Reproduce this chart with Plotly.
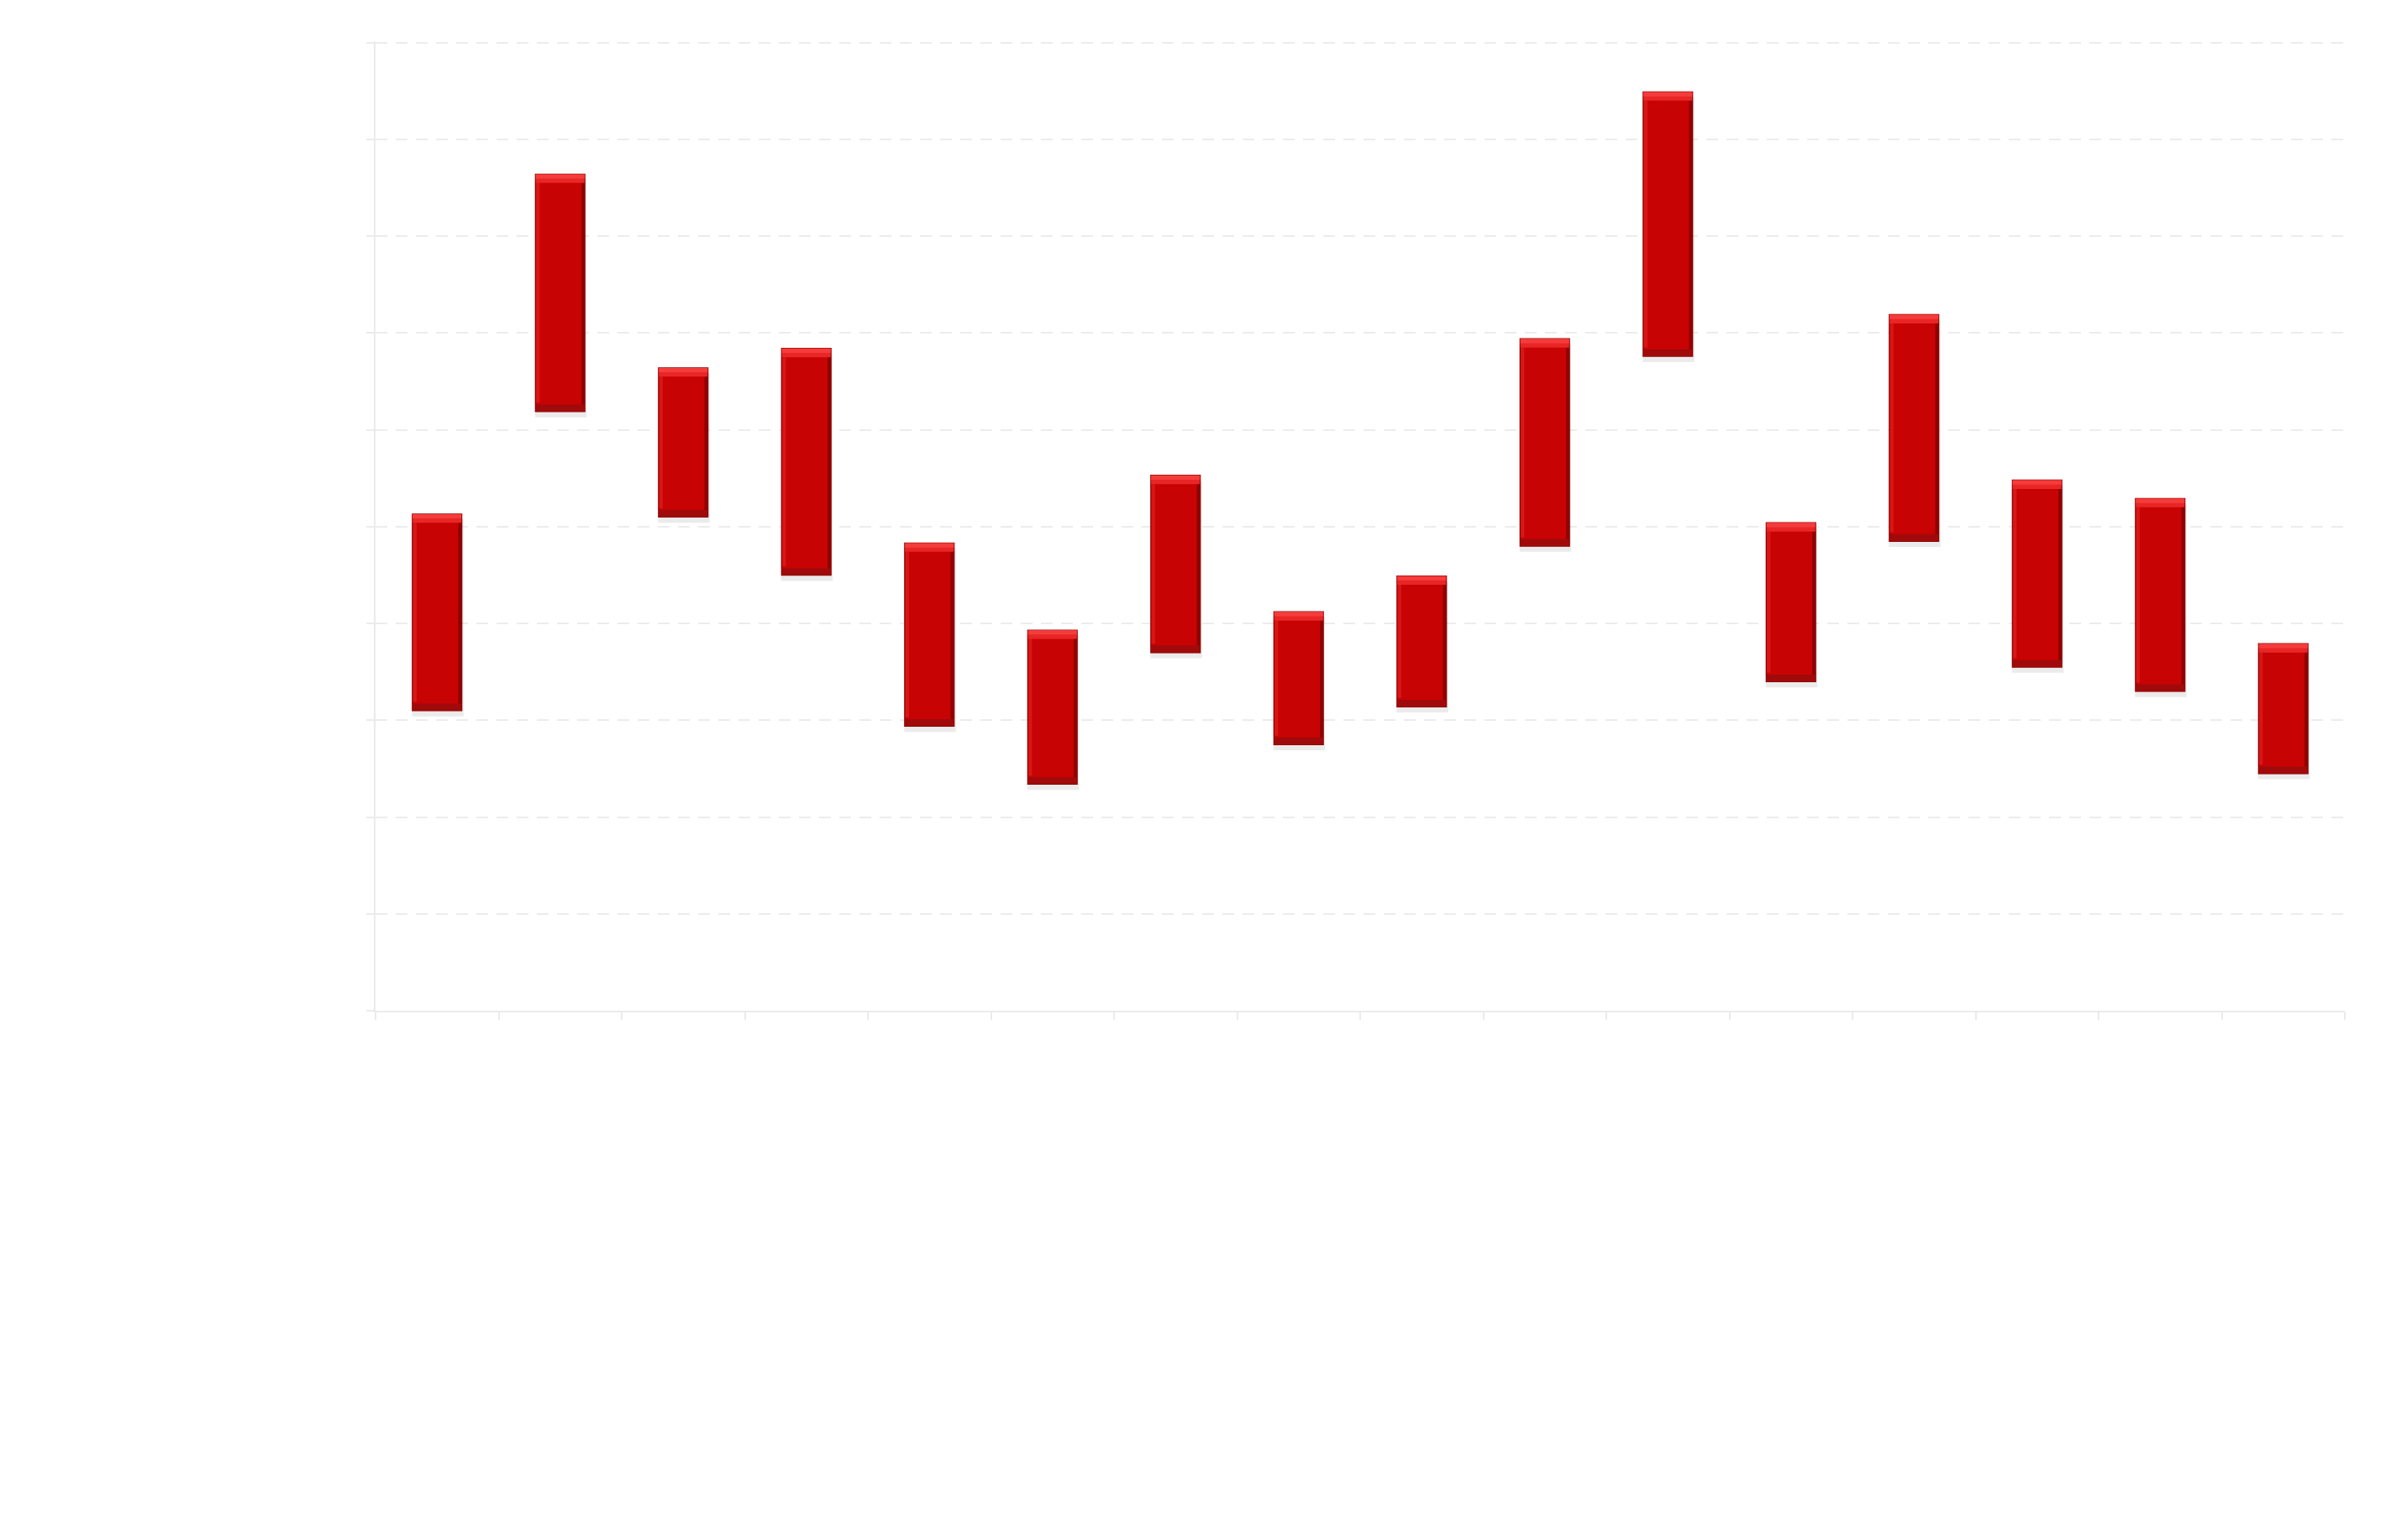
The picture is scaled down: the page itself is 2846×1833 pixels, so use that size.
import plotly.graph_objects as go

# ---- data (axis has no labels, scale 0-10) ----
categories = [str(i) for i in range(1, 17)]
low_values = [3.10, 6.19, 5.10, 4.50, 2.94, 2.34, 3.70, 2.75, 3.14, 4.80, 6.76, 3.40, 4.85, 3.55, 3.30, 2.45]
high_values = [5.13, 8.64, 6.64, 6.84, 4.83, 3.93, 5.53, 4.12, 4.49, 6.94, 9.49, 5.04, 7.19, 5.48, 5.29, 3.79]

heights = [h - l for h, l in zip(high_values, low_values)]
BW = 0.40      # bar width (fraction of category)
BEV = 0.09     # bevel depth in data units

fig = go.Figure()

# soft shadow
fig.add_trace(go.Bar(
    x=categories, y=heights, base=[l - 0.06 for l in low_values],
    width=BW + 0.02, offset=-BW / 2 - 0.005,
    marker=dict(color="rgba(0,0,0,0.08)", line=dict(width=0)),
    hoverinfo="skip", showlegend=False))

# main body
fig.add_trace(go.Bar(
    x=categories, y=heights, base=low_values, width=BW,
    marker=dict(color="#c80303", line=dict(color="#8c0000", width=1.5)),
    showlegend=False))

# left highlight
fig.add_trace(go.Bar(
    x=categories, y=[h - 2 * BEV for h in heights], base=[l + BEV for l in low_values],
    width=0.03, offset=-BW / 2 + 0.004,
    marker=dict(color="#d91515", line=dict(width=0)),
    hoverinfo="skip", showlegend=False))

# right dark edge
fig.add_trace(go.Bar(
    x=categories, y=heights, base=low_values,
    width=0.025, offset=BW / 2 - 0.027,
    marker=dict(color="#8e0202", line=dict(width=0)),
    hoverinfo="skip", showlegend=False))

# top bevel (light), two tones
fig.add_trace(go.Bar(
    x=categories, y=[BEV] * len(categories), base=[h - BEV for h in high_values],
    width=BW - 0.004,
    marker=dict(color="#e92626", line=dict(width=0)),
    hoverinfo="skip", showlegend=False))
fig.add_trace(go.Bar(
    x=categories, y=[BEV / 2] * len(categories), base=[h - BEV / 2 for h in high_values],
    width=BW - 0.004,
    marker=dict(color="#f53c3c", line=dict(width=0)),
    hoverinfo="skip", showlegend=False))

# bottom bevel (dark)
fig.add_trace(go.Bar(
    x=categories, y=[BEV * 0.8] * len(categories), base=low_values,
    width=BW - 0.004,
    marker=dict(color="#a00a0a", line=dict(width=0)),
    hoverinfo="skip", showlegend=False))

axis_col = "#ebebeb"
fig.update_layout(
    width=2846, height=1833,
    margin=dict(l=439, r=63, t=41, b=638),
    paper_bgcolor="white", plot_bgcolor="white",
    barmode="overlay",
    xaxis=dict(
        type="category", categoryorder="array", categoryarray=categories,
        showticklabels=False, showgrid=False, zeroline=False,
        showline=True, linecolor=axis_col, linewidth=2,
        ticks="outside", ticklen=9, tickwidth=2, tickcolor=axis_col,
        tickson="boundaries", range=[-0.5, 15.5]),
    yaxis=dict(
        range=[0, 10.015], dtick=1, showticklabels=False,
        showgrid=True, gridcolor="#ececec", gridwidth=2, griddash="14px,10px",
        zeroline=False, showline=True, linecolor=axis_col, linewidth=2,
        ticks="outside", ticklen=9, tickwidth=2, tickcolor=axis_col),
)

fig.write_html("out.html")
